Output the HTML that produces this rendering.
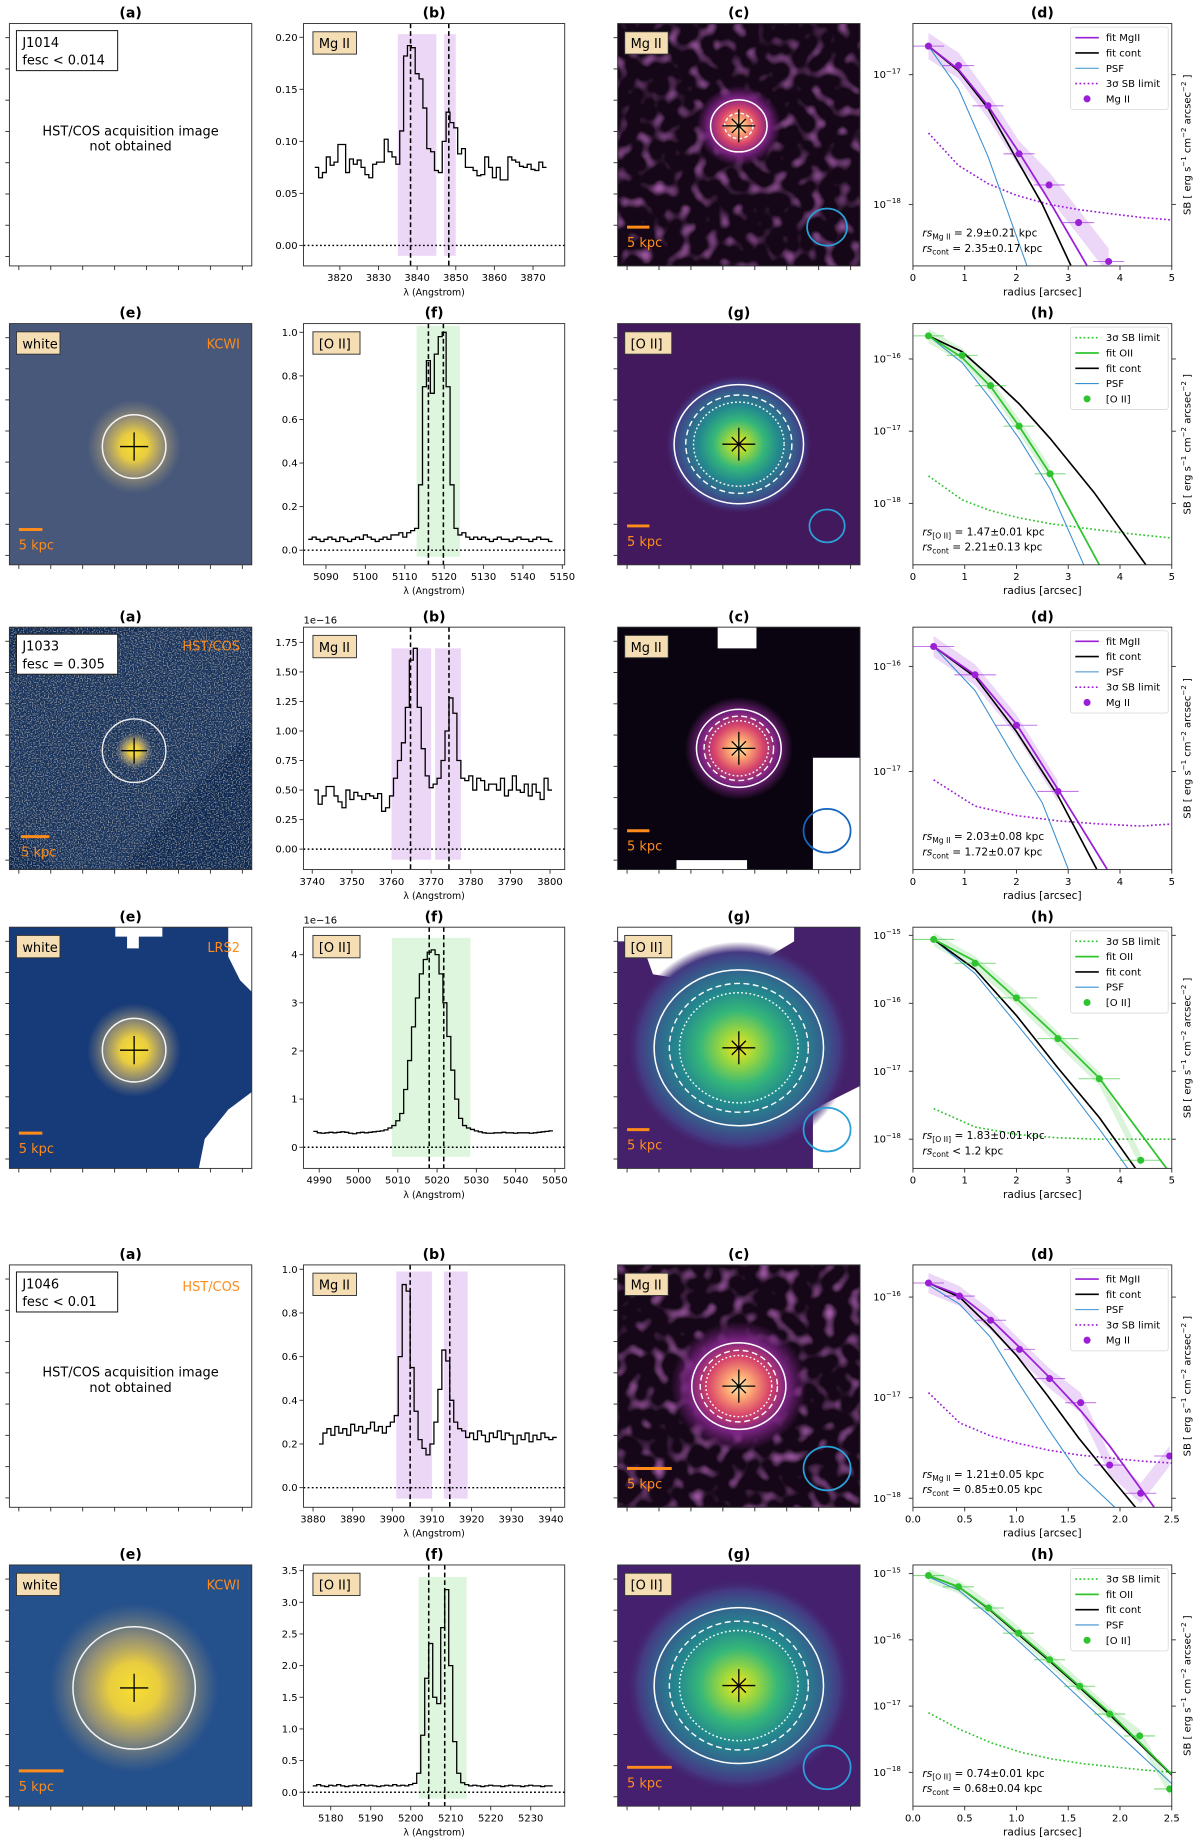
<!DOCTYPE html>
<html><head><meta charset="utf-8">
<style>
html,body{margin:0;padding:0;background:#fff;}
svg{display:block;font-family:"DejaVu Sans","Liberation Sans",sans-serif;}
</style></head>
<body>
<svg id="fig" xmlns="http://www.w3.org/2000/svg" width="1200" height="1845" viewBox="0 0 1020 1568" preserveAspectRatio="none">
<defs>
<radialGradient id="gMagma" cx="50%" cy="50%" r="50%">
<stop offset="0" stop-color="#fcf0b0"/><stop offset="0.2" stop-color="#fca372"/><stop offset="0.45" stop-color="#d8456a"/><stop offset="0.7" stop-color="#7a2382"/><stop offset="1" stop-color="#7a2382" stop-opacity="0"/>
</radialGradient>
<radialGradient id="gViridis" cx="50%" cy="50%" r="50%">
<stop offset="0" stop-color="#f4e323"/><stop offset="0.15" stop-color="#9fd83c"/><stop offset="0.35" stop-color="#35b779"/><stop offset="0.55" stop-color="#23898e"/><stop offset="0.75" stop-color="#35608d"/><stop offset="0.9" stop-color="#443a83"/><stop offset="1" stop-color="#46256e" stop-opacity="0"/>
</radialGradient>
<radialGradient id="gWhite" cx="50%" cy="50%" r="50%">
<stop offset="0" stop-color="#f7e030"/><stop offset="0.3" stop-color="#e8cc40"/><stop offset="0.6" stop-color="#b0a070" stop-opacity="0.8"/><stop offset="1" stop-color="#8a8a80" stop-opacity="0"/>
</radialGradient>
<filter id="noisePurple" x="0" y="0" width="100%" height="100%">
<feTurbulence type="fractalNoise" baseFrequency="0.09" numOctaves="1" seed="3"/>
<feColorMatrix type="matrix" values="0 0 0 0 0.45  0 0 0 0 0.13  0 0 0 0 0.48  0 0 0 3 -1.55"/>
</filter>
<filter id="noiseSpeck" x="0" y="0" width="100%" height="100%">
<feTurbulence type="fractalNoise" baseFrequency="0.9" numOctaves="1" seed="7"/>
<feColorMatrix type="matrix" values="0 0 0 0 0.75  0 0 0 0 0.68  0 0 0 0 0.55  0 0 0 5 -2.4"/>
</filter>
</defs>
</svg>
<script>
// ===================== DATA =====================
const s1_start = 3814;
const s1_vals = [0.075,0.065,0.07,0.085,0.077,0.08,0.097,0.097,0.07,0.083,0.078,0.082,0.075,0.068,0.065,0.078,0.08,0.08,0.102,0.09,0.085,0.078,0.11,0.182,0.192,0.19,0.165,0.16,0.132,0.093,0.09,0.072,0.07,0.1,0.128,0.118,0.113,0.088,0.093,0.075,0.075,0.072,0.067,0.068,0.085,0.075,0.065,0.075,0.063,0.063,0.085,0.082,0.08,0.076,0.075,0.078,0.073,0.072,0.08,0.075];
const s2_start = 5086;
const s2_vals = [0.05,0.06,0.05,0.04,0.05,0.06,0.05,0.04,0.06,0.05,0.04,0.05,0.06,0.05,0.07,0.06,0.05,0.04,0.05,0.06,0.05,0.07,0.07,0.08,0.06,0.08,0.09,0.1,0.3,0.75,0.87,0.72,0.9,0.98,1.0,0.75,0.3,0.1,0.07,0.08,0.06,0.05,0.06,0.05,0.06,0.05,0.04,0.05,0.06,0.05,0.05,0.04,0.05,0.06,0.05,0.05,0.04,0.05,0.06,0.05,0.05,0.04];
const s3_start = 3741;
const s3_vals = [0.5,0.38,0.45,0.53,0.53,0.45,0.4,0.35,0.5,0.42,0.48,0.45,0.42,0.47,0.45,0.43,0.47,0.32,0.35,0.45,0.6,0.75,0.9,1.2,1.6,1.7,1.2,0.85,0.62,0.52,0.55,0.6,0.75,1.0,1.28,1.15,0.75,0.6,0.58,0.62,0.5,0.6,0.58,0.5,0.55,0.55,0.5,0.6,0.45,0.5,0.62,0.5,0.48,0.55,0.45,0.55,0.48,0.42,0.6,0.5];
const s4_start = 4989;
const s4_vals = [0.33,0.3,0.29,0.3,0.31,0.3,0.31,0.32,0.31,0.29,0.28,0.3,0.31,0.3,0.31,0.32,0.33,0.34,0.36,0.4,0.45,0.55,0.7,1.2,1.8,2.5,3.1,3.6,3.9,4.05,4.1,4.0,3.6,3.0,2.3,1.6,1.0,0.6,0.45,0.4,0.37,0.34,0.32,0.3,0.29,0.29,0.3,0.3,0.31,0.3,0.3,0.29,0.3,0.3,0.3,0.29,0.3,0.31,0.32,0.33,0.34];
const s5_start = 3882;
const s5_vals = [0.2,0.25,0.27,0.24,0.28,0.25,0.27,0.24,0.29,0.26,0.28,0.25,0.27,0.3,0.26,0.28,0.25,0.28,0.3,0.33,0.6,0.93,0.9,0.55,0.35,0.22,0.18,0.15,0.2,0.3,0.45,0.63,0.58,0.4,0.3,0.27,0.26,0.23,0.25,0.22,0.26,0.24,0.21,0.25,0.23,0.26,0.22,0.25,0.24,0.2,0.24,0.22,0.25,0.21,0.24,0.22,0.25,0.23,0.22,0.23];
const s6_start = 5176;
const s6_vals = [0.1,0.12,0.1,0.09,0.11,0.1,0.12,0.1,0.09,0.1,0.11,0.1,0.12,0.1,0.11,0.1,0.09,0.1,0.11,0.1,0.12,0.1,0.11,0.1,0.12,0.14,0.3,0.9,1.8,2.35,1.5,1.4,2.6,3.2,2.0,0.8,0.3,0.15,0.12,0.1,0.11,0.1,0.09,0.1,0.11,0.1,0.1,0.09,0.1,0.11,0.1,0.1,0.09,0.1,0.11,0.1,0.1,0.09,0.1,0.1];

const p1_r = [0.3,0.88,1.45,2.05,2.63,3.2,3.78];
const p1_logSB = [-16.78,-16.93,-17.24,-17.61,-17.85,-18.14,-18.44];
const p1_fit_r = [0.3,0.88,1.45,2.05,2.63,3.36];
const p1_fit_log = [-16.78,-16.96,-17.24,-17.6,-17.97,-18.47];
const p1_cont_r = [0.3,0.88,1.45,2.0,2.5,3.05];
const p1_cont_log = [-16.78,-16.97,-17.26,-17.65,-18.0,-18.47];
const p1_psf_r = [0.3,0.88,1.45,2.2];
const p1_psf_log = [-16.78,-17.11,-17.63,-18.47];
const p1_sb_r = [0.3,0.88,1.45,2.0,2.63,3.2,3.78,4.4,5.0];
const p1_sb_log = [-17.45,-17.7,-17.84,-17.93,-18.0,-18.04,-18.07,-18.1,-18.12];

const p2_r = [0.3,0.95,1.5,2.05,2.65];
const p2_logSB = [-15.68,-15.95,-16.37,-16.93,-17.59];
const p2_fit_r = [0.3,0.95,1.5,2.05,2.65,3.6];
const p2_fit_log = [-15.68,-15.98,-16.38,-16.93,-17.59,-18.85];
const p2_cont_r = [0.3,0.95,1.5,2.05,2.65,3.5,4.5];
const p2_cont_log = [-15.68,-15.9,-16.25,-16.62,-17.1,-17.85,-18.85];
const p2_psf_r = [0.3,0.95,1.5,2.05,2.65,3.3];
const p2_psf_log = [-15.68,-16.05,-16.55,-17.1,-17.8,-18.85];
const p2_sb_r = [0.3,0.95,1.5,2.05,2.65,3.5,4.2,5.0];
const p2_sb_log = [-17.62,-17.95,-18.1,-18.2,-18.28,-18.36,-18.42,-18.48];

const p3_r = [0.4,1.2,2.0,2.8];
const p3_logSB = [-15.81,-16.08,-16.56,-17.19];
const p3_fit_r = [0.4,1.2,2.0,2.8,3.75];
const p3_fit_log = [-15.81,-16.08,-16.55,-17.17,-17.93];
const p3_cont_r = [0.4,1.2,2.0,2.8,3.55];
const p3_cont_log = [-15.81,-16.1,-16.62,-17.23,-17.93];
const p3_psf_r = [0.4,1.2,2.0,2.5,3.0];
const p3_psf_log = [-15.81,-16.23,-16.9,-17.3,-17.93];
const p3_sb_r = [0.4,1.2,2.0,2.8,3.6,4.4,5.0];
const p3_sb_log = [-17.08,-17.33,-17.42,-17.47,-17.5,-17.52,-17.5];

const p4_r = [0.4,1.2,2.0,2.8,3.6,4.4];
const p4_logSB = [-15.06,-15.41,-15.92,-16.52,-17.11,-18.31];
const p4_fit_r = [0.4,1.2,2.0,2.8,3.6,4.9];
const p4_fit_log = [-15.06,-15.38,-15.93,-16.5,-17.1,-18.43];
const p4_cont_r = [0.4,1.2,2.0,2.8,3.6,4.3];
const p4_cont_log = [-15.06,-15.5,-16.18,-16.95,-17.68,-18.43];
const p4_psf_r = [0.4,1.2,2.0,2.8,3.6,4.15];
const p4_psf_log = [-15.06,-15.56,-16.3,-17.05,-17.85,-18.43];
const p4_sb_r = [0.4,1.2,2.0,2.8,3.6,4.4,5.0];
const p4_sb_log = [-17.55,-17.82,-17.93,-17.98,-18.0,-18.0,-18.0];

const p5_r = [0.15,0.45,0.75,1.03,1.32,1.62,1.9,2.2,2.48];
const p5_logSB = [-15.86,-15.99,-16.23,-16.52,-16.81,-17.05,-17.67,-17.95,-17.58];
const p5_fit_r = [0.15,0.45,0.75,1.03,1.32,1.62,1.9,2.33];
const p5_fit_log = [-15.86,-15.98,-16.22,-16.5,-16.8,-17.13,-17.48,-18.09];
const p5_cont_r = [0.15,0.45,0.75,1.0,1.3,1.6,1.9,2.15];
const p5_cont_log = [-15.86,-16.0,-16.3,-16.58,-16.98,-17.4,-17.78,-18.09];
const p5_psf_r = [0.15,0.45,0.75,1.0,1.3,1.6,1.95];
const p5_psf_log = [-15.88,-16.07,-16.4,-16.82,-17.3,-17.75,-18.09];
const p5_sb_r = [0.15,0.45,0.75,1.0,1.3,1.6,1.9,2.2,2.5];
const p5_sb_log = [-16.95,-17.25,-17.38,-17.45,-17.52,-17.57,-17.6,-17.63,-17.65];

const p6_r = [0.15,0.44,0.73,1.02,1.32,1.61,1.9,2.19,2.48];
const p6_logSB = [-15.03,-15.2,-15.52,-15.9,-16.3,-16.7,-17.12,-17.45,-18.25];
const p6_fit_r = [0.15,0.44,0.73,1.02,1.32,1.61,1.9,2.19,2.5];
const p6_fit_log = [-15.03,-15.2,-15.52,-15.9,-16.3,-16.7,-17.1,-17.55,-18.03];
const p6_cont_r = [0.15,0.44,0.73,1.02,1.32,1.61,1.9,2.19,2.5];
const p6_cont_log = [-15.03,-15.2,-15.53,-15.92,-16.32,-16.72,-17.13,-17.57,-18.04];
const p6_psf_r = [0.15,0.44,0.73,1.02,1.32,1.61,1.9,2.19,2.5];
const p6_psf_log = [-15.05,-15.25,-15.62,-16.02,-16.45,-16.88,-17.3,-17.72,-18.17];
const p6_sb_r = [0.15,0.45,0.75,1.05,1.35,1.65,1.95,2.2,2.5];
const p6_sb_log = [-17.1,-17.35,-17.55,-17.7,-17.8,-17.87,-17.92,-17.96,-18.0];

// ===================== LAYOUT =====================
const COLX = {a:[8,214], b:[258,480], c:[525,731], d:[776,996]};
const ROWY = [[20,226],[275,480],[533,739],[788,993],[1075,1281],[1330,1535]];
const NS = 'http://www.w3.org/2000/svg';
const svg = document.getElementById('fig');
const MG = '#9b1fd6', OII = '#2fc42f', PSFC = '#3a8fd0';

function mk(tag, parent, attrs){
  const e = document.createElementNS(NS, tag);
  for (const k in attrs) e.setAttribute(k, attrs[k]);
  parent.appendChild(e);
  return e;
}
function txt(parent, x, y, s, attrs){
  const t = mk('text', parent, Object.assign({x:x, y:y, 'font-size':9, fill:'#000'}, attrs||{}));
  t.textContent = s;
  return t;
}
function lin(d0,d1,p0,p1){ return v => p0 + (v-d0)/(d1-d0)*(p1-p0); }
function fmt(v,d){ return v.toFixed(d); }

function title(g, x0, x1, y0, s){
  const t = txt(g, (x0+x1)/2, y0-5, s, {'font-size':12, 'font-weight':'bold', 'text-anchor':'middle'});
  
  
}
function labelBox(g, x, y, s, w){
  const r = mk('rect', g, {x:x, y:y, width:w, height:19, fill:'#f6deb4', stroke:'#333', 'stroke-width':0.8});
  
  
  const t = txt(g, x+5, y+14, s, {'font-size':11});
  
  
}

function drawSpec(c){
  const [x0,x1] = COLX.b, [y0,y1] = c.row;
  const g = mk('g', svg, {});
  
  
  const xs = lin(c.xdom[0], c.xdom[1], x0, x1), ys = lin(c.ydom[0], c.ydom[1], y1, y0);
  title(g, x0, x1, y0, c.title);
  c.bands.forEach(b => {
    const r = mk('rect', g, {x:xs(b[0]), y:ys(c.bandY[1]), width:xs(b[1])-xs(b[0]), height:ys(c.bandY[0])-ys(c.bandY[1]), fill:c.bandColor, opacity:0.45});
    
    
  });
  const z = mk('line', g, {x1:x0, x2:x1, y1:ys(0), y2:ys(0), stroke:'#000', 'stroke-width':1.2, 'stroke-dasharray':'1.5,2'});
  
  
  const w = c.vals.map((v,i)=>c.start+i);
  let d = 'M'+xs(w[0]-0.5)+' '+ys(c.vals[0]);
  for (let i=0;i<c.vals.length;i++){
    if (i>0) d += ' V'+ys(c.vals[i]);
    d += ' H'+xs(w[i]+0.5);
  }
  const p = mk('path', g, {d:d, fill:'none', stroke:'#000', 'stroke-width':1.1});
  
  
  c.dashes.forEach(v => {
    const l = mk('line', g, {x1:xs(v), x2:xs(v), y1:y0, y2:y1, stroke:'#000', 'stroke-width':1.3, 'stroke-dasharray':'4,2.5'});
    
    
  });
  const fr = mk('rect', g, {x:x0, y:y0, width:x1-x0, height:y1-y0, fill:'none', stroke:'#333', 'stroke-width':0.8});
  
  
  c.xticks.forEach(v => {
    mk('line', g, {x1:xs(v), x2:xs(v), y1:y1, y2:y1+3.5, stroke:'#333', 'stroke-width':0.8});
    const t = txt(g, xs(v), y1+13, String(v), {'font-size':8.5, 'text-anchor':'middle'});
    
    
  });
  c.yticks.forEach(v => {
    mk('line', g, {x1:x0-3.5, x2:x0, y1:ys(v), y2:ys(v), stroke:'#333', 'stroke-width':0.8});
    const t = txt(g, x0-5, ys(v)+3, fmt(v,c.ydec), {'font-size':8.5, 'text-anchor':'end'});
    
    
  });
  const xl = txt(g, (x0+x1)/2, y1+25, 'λ (Angstrom)', {'font-size':8, 'text-anchor':'middle'});
  
  
  if (c.sci){
    const s = txt(g, x0, y0-3, c.sci, {'font-size':8.5});
    
    
  }
  labelBox(g, x0+8, y0+7, c.label, c.label==='Mg II'?37:40);
}

function drawProf(c){
  const [x0,x1] = COLX.d, [y0,y1] = c.row;
  const g = mk('g', svg, {});
  
  
  const xs = lin(c.xdom[0], c.xdom[1], x0, x1), ys = lin(c.ydom[0], c.ydom[1], y1, y0);
  title(g, x0, x1, y0, c.title);
  const cid = 'clip'+c.id;
  const cp = mk('clipPath', svg, {id:cid});
  mk('rect', cp, {x:x0, y:y0, width:x1-x0, height:y1-y0});
  const pg = mk('g', g, {'clip-path':'url(#'+cid+')'});
  let up = c.r.map((r,i)=>xs(r)+','+ys(c.v[i]+0.1)).join(' ');
  let dn = c.r.slice().reverse().map((r,i)=>xs(r)+','+ys(c.v[c.v.length-1-i]-0.1)).join(' ');
  const band = mk('polygon', pg, {points:up+' '+dn, fill:c.color, opacity:0.18});
  
  
  const line = (rs, vs, stroke, sw, dash, name) => {
    const l = mk('polyline', pg, {points:rs.map((r,i)=>xs(r)+','+ys(vs[i])).join(' '), fill:'none', stroke:stroke, 'stroke-width':sw});
    if (dash) l.setAttribute('stroke-dasharray', dash);
    
    
  };
  line(c.sbR, c.sbV, c.color, 1.4, '1.5,2', 'sb-limit-line');
  line(c.psfR, c.psfV, PSFC, 0.9, null, 'psf-line');
  line(c.contR, c.contV, '#000', 1.4, null, 'fit-cont-line');
  line(c.fitR, c.fitV, c.color, 1.5, null, 'fit-line-line');
  c.r.forEach((r,i) => {
    const e = mk('line', pg, {x1:xs(r-c.xerr), x2:xs(r+c.xerr), y1:ys(c.v[i]), y2:ys(c.v[i]), stroke:c.color, 'stroke-width':0.9, opacity:0.6});
    
    
    const pt = mk('circle', pg, {cx:xs(r), cy:ys(c.v[i]), r:3, fill:c.color});
    
    
  });
  const fr = mk('rect', g, {x:x0, y:y0, width:x1-x0, height:y1-y0, fill:'none', stroke:'#333', 'stroke-width':0.8});
  
  
  c.xticks.forEach(v => {
    mk('line', g, {x1:xs(v), x2:xs(v), y1:y1, y2:y1+3.5, stroke:'#333', 'stroke-width':0.8});
    const t = txt(g, xs(v), y1+13, fmt(v,c.xdec), {'font-size':8.5, 'text-anchor':'middle'});
    
    
  });
  for (let e = Math.ceil(c.ydom[0]); e <= Math.floor(c.ydom[1]); e++){
    mk('line', g, {x1:x0-3.5, x2:x0, y1:ys(e), y2:ys(e), stroke:'#333', 'stroke-width':0.8});
    mk('line', g, {x1:x1, x2:x1+3.5, y1:ys(e), y2:ys(e), stroke:'#333', 'stroke-width':0.8});
    const t = txt(g, x0-22, ys(e)+3, '10', {'font-size':8.5, 'text-anchor':'middle'});
    const sp = mk('tspan', t, {'font-size':6, dy:-4});
    sp.textContent = '−'+Math.abs(e);
    
    
  }
  const xl = txt(g, (x0+x1)/2, y1+25, 'radius [arcsec]', {'font-size':9, 'text-anchor':'middle'});
  
  
  const cy = (y0+y1)/2;
  const yl = txt(g, 0, 0, 'SB [ erg s', {'font-size':8.5, 'text-anchor':'middle', transform:'translate(1012,'+cy+') rotate(-90)'});
  let s1 = mk('tspan', yl, {'font-size':6, dy:-4}); s1.textContent='−1';
  let s2 = mk('tspan', yl, {dy:4}); s2.textContent=' cm';
  let s3 = mk('tspan', yl, {'font-size':6, dy:-4}); s3.textContent='−2';
  let s4 = mk('tspan', yl, {dy:4}); s4.textContent=' arcsec';
  let s5 = mk('tspan', yl, {'font-size':6, dy:-4}); s5.textContent='−2';
  let s6 = mk('tspan', yl, {dy:4}); s6.textContent=' ]';
  
  
  const rsText = (y, sub, rest) => {
    const t = txt(g, x0+8, y, 'rs', {'font-size':9, 'font-style':'italic'});
    const sb = mk('tspan', t, {'font-size':6.5, dy:2.5, 'font-style':'normal'}); sb.textContent = sub;
    const rr = mk('tspan', t, {dy:-2.5, 'font-style':'normal'}); rr.textContent = rest;
    
    
  };
  rsText(y1-25, c.lineSub, c.rsLine);
  rsText(y1-12, 'cont', c.rsCont);
  const lx = x1-86, ly = y0+3, n = c.legend.length;
  const lb = mk('rect', g, {x:lx, y:ly, width:83, height:n*13+5, fill:'#fff', 'fill-opacity':0.85, stroke:'#ddd', 'stroke-width':0.8, rx:2});
  
  
  c.legend.forEach((it,i) => {
    const yy = ly + 9 + i*13;
    if (it.type==='pt'){
      mk('circle', g, {cx:lx+14, cy:yy, r:3, fill:it.color});
    } else {
      const l = mk('line', g, {x1:lx+4, x2:lx+24, y1:yy, y2:yy, stroke:it.color, 'stroke-width':it.sw||1.4});
      if (it.dash) l.setAttribute('stroke-dasharray', it.dash);
    }
    const t = txt(g, lx+30, yy+3, it.label, {'font-size':8.5});
    
    
  });
}

function imgFrame(g, x0, x1, y0, y1, nt){
  const fr = mk('rect', g, {x:x0, y:y0, width:x1-x0, height:y1-y0, fill:'none', stroke:'#333', 'stroke-width':0.8});
  
  
  for (let i=0;i<nt;i++){
    const fx = x0 + 8 + i*(x1-x0-16)/(nt-1);
    mk('line', g, {x1:fx, x2:fx, y1:y1, y2:y1+3.5, stroke:'#333', 'stroke-width':0.8});
    const fy = y0 + 12 + i*(y1-y0-20)/(nt-1);
    mk('line', g, {x1:x0-3.5, x2:x0, y1:fy, y2:fy, stroke:'#333', 'stroke-width':0.8});
  }
}
function scaleBar(g, x, y, len){
  const b = mk('line', g, {x1:x, x2:x+len, y1:y, y2:y, stroke:'#ff8c1a', 'stroke-width':2.5});
  
  
  const t = txt(g, x, y+17, '5 kpc', {'font-size':11, fill:'#ff8c1a'});
  
  
}
function cross(g, cx, cy, s, x){
  mk('line', g, {x1:cx-s, x2:cx+s, y1:cy, y2:cy, stroke:'#000', 'stroke-width':1.1});
  mk('line', g, {x1:cx, x2:cx, y1:cy-s, y2:cy+s, stroke:'#000', 'stroke-width':1.1});
  if (x){
    mk('line', g, {x1:cx-6, x2:cx+6, y1:cy-6, y2:cy+6, stroke:'#000', 'stroke-width':1.1});
    mk('line', g, {x1:cx-6, x2:cx+6, y1:cy+6, y2:cy-6, stroke:'#000', 'stroke-width':1.1});
  }
}
function infoBox(g, x, y, l1, l2){
  const r = mk('rect', g, {x:x, y:y, width:86, height:34, fill:'#fff', stroke:'#222', 'stroke-width':0.9});
  
  
  const t1 = txt(g, x+5, y+14, l1, {'font-size':11});
  
  
  const t2 = txt(g, x+5, y+29, l2, {'font-size':11});
  
  
}
function instrument(g, x, y, s){
  const t = txt(g, x, y, s, {'font-size':11, fill:'#ff8c1a', 'text-anchor':'end'});
  
  
}
function clipG(g, id, x0, y0, x1, y1){
  const cp = mk('clipPath', svg, {id:id});
  mk('rect', cp, {x:x0, y:y0, width:x1-x0, height:y1-y0});
  return mk('g', g, {'clip-path':'url(#'+id+')'});
}

function drawA(ri, kind, opts){
  const [x0,x1] = COLX.a, [y0,y1] = ROWY[ri];
  const g = mk('g', svg, {});
  
  
  title(g, x0, x1, y0, opts.title);
  const cx = (x0+x1)/2+3, cy = (y0+y1)/2+2;
  const ig = clipG(g, 'ca'+ri, x0, y0, x1, y1);
  if (kind==='empty'){
    const t1 = txt(g, (x0+x1)/2, cy-10, 'HST/COS acquisition image', {'font-size':11, 'text-anchor':'middle'});
    
    
    const t2 = txt(g, (x0+x1)/2, cy+3, 'not obtained', {'font-size':11, 'text-anchor':'middle'});
    
    
  } else if (kind==='hst'){
    mk('rect', ig, {x:x0, y:y0, width:x1-x0, height:y1-y0, fill:'#0c2751'});
    const pts = [x0,y0+25, x0+125,y0, x1,y0, x1,y0+85, x0+95,y1, x0+40,y1, x0,y0+170].join(' ');
    mk('polygon', ig, {points:pts, fill:'#17325c'});
    mk('polygon', ig, {points:pts, fill:'#fff', filter:'url(#noiseSpeck)', opacity:0.55});
    mk('circle', ig, {cx:cx, cy:cy, r:16, fill:'url(#gWhite)'});
    mk('circle', ig, {cx:cx, cy:cy, r:27, fill:'none', stroke:'#eee', 'stroke-width':1.2});
    cross(ig, cx, cy, 11, false);
    infoBox(g, x0+6, y0+6, 'J1033', 'fesc = 0.305');
    instrument(g, x1-10, y0+20, 'HST/COS');
    scaleBar(g, x0+10, y1-28, 24);
  } else {
    mk('rect', ig, {x:x0, y:y0, width:x1-x0, height:y1-y0, fill:opts.bg});
    if (opts.cut) opts.cut.forEach(p => mk('polygon', ig, {points:p.join(' '), fill:'#fff'}));
    mk('circle', ig, {cx:cx, cy:cy, r:opts.glow, fill:'url(#gWhite)'});
    const c = mk('circle', ig, {cx:cx, cy:cy, r:opts.circ, fill:'none', stroke:'#f4f4f4', 'stroke-width':1.3});
    
    
    cross(ig, cx, cy, 12, false);
    labelBox(g, x0+6, y0+7, 'white', 37);
    instrument(g, x1-10, y0+21, opts.inst);
    scaleBar(g, x0+8, y1-30, opts.bar);
  }
  if (opts.info) infoBox(g, x0+6, y0+6, opts.info[0], opts.info[1]);
  if (opts.inst2) instrument(g, x1-10, y0+22, opts.inst2);
  imgFrame(g, x0, x1, y0, y1, 8);
}

function drawC(ri, kind, opts){
  const [x0,x1] = COLX.c, [y0,y1] = ROWY[ri];
  const g = mk('g', svg, {});
  
  
  title(g, x0, x1, y0, opts.title);
  const cx = (x0+x1)/2, cy = (y0+y1)/2+ (opts.dy||0);
  const ig = clipG(g, 'cc'+ri, x0, y0, x1, y1);
  mk('rect', ig, {x:x0, y:y0, width:x1-x0, height:y1-y0, fill:opts.bg});
  if (opts.noise) mk('rect', ig, {x:x0, y:y0, width:x1-x0, height:y1-y0, fill:'#fff', filter:'url(#noisePurple)'});
  if (opts.cut) opts.cut.forEach(p => mk('polygon', ig, {points:p.join(' '), fill:'#fff'}));
  const blob = mk('ellipse', ig, {cx:cx, cy:cy, rx:opts.glow, ry:opts.glow*0.95, fill: kind==='mg'?'url(#gMagma)':'url(#gViridis)'});
  
  
  const r = opts.cont;
  const c1 = mk('ellipse', ig, {cx:cx, cy:cy, rx:r, ry:r*0.92, fill:'none', stroke:'#fff', 'stroke-width':1.3});
  
  
  if (r>25){
    mk('ellipse', ig, {cx:cx, cy:cy, rx:r*0.82, ry:r*0.76, fill:'none', stroke:'#fff', 'stroke-width':1.2, 'stroke-dasharray':'5,3'});
    mk('ellipse', ig, {cx:cx, cy:cy, rx:r*0.7, ry:r*0.65, fill:'none', stroke:'#fff', 'stroke-width':1.2, 'stroke-dasharray':'1.5,2'});
  } else {
    mk('ellipse', ig, {cx:cx, cy:cy, rx:r*0.5, ry:r*0.45, fill:'none', stroke:'#fff', 'stroke-width':1.2, 'stroke-dasharray':'3,2'});
  }
  cross(ig, cx, cy, 14, true);
  const psf = mk('ellipse', ig, {cx:x1-28, cy:y1-33, rx:opts.psf, ry:opts.psf*0.93, fill:'none', stroke:kind==='mg'&&ri!==0&&ri!==4?'#1565c0':'#2aa0d8', 'stroke-width':1.5});
  
  
  labelBox(g, x0+6, y0+7, kind==='mg'?'Mg II':'[O II]', kind==='mg'?37:40);
  scaleBar(g, x0+8, y1-33+(opts.barDy||0), opts.bar);
  imgFrame(g, x0, x1, y0, y1, 8);
}

// ===================== BUILD =====================
drawA(0, 'empty', {title:'(a)', info:['J1014','fesc < 0.014']});
drawSpec({row:ROWY[0], title:'(b)', xdom:[3810.6,3878.2], ydom:[-0.0197,0.2132], start:s1_start, vals:s1_vals,
  bands:[[3835,3845],[3847,3850]], bandY:[-0.01,0.203], bandColor:'#d6a6ee', dashes:[3838.3,3848.2],
  xticks:[3820,3830,3840,3850,3860,3870], yticks:[0,0.05,0.1,0.15,0.2], ydec:2, label:'Mg II'});
drawC(0, 'mg', {title:'(c)', bg:'#150717', noise:true, glow:36, cont:24, psf:17, bar:19, dy:-16});
drawProf({id:1, row:ROWY[0], title:'(d)', xdom:[0,5], ydom:[-18.474,-16.606], xticks:[0,1,2,3,4,5], xdec:0, xerr:0.3,
  r:p1_r, v:p1_logSB, fitR:p1_fit_r, fitV:p1_fit_log, contR:p1_cont_r, contV:p1_cont_log, psfR:p1_psf_r, psfV:p1_psf_log, sbR:p1_sb_r, sbV:p1_sb_log,
  color:MG, lineSub:'Mg II', rsLine:' = 2.9±0.21 kpc', rsCont:' = 2.35±0.17 kpc',
  legend:[{label:'fit MgII',color:MG},{label:'fit cont',color:'#000'},{label:'PSF',color:PSFC,sw:0.9},{label:'3σ SB limit',color:MG,dash:'1.5,2'},{label:'Mg II',color:MG,type:'pt'}]});

drawA(1, 'img', {title:'(e)', bg:'#48587a', glow:40, circ:27, inst:'KCWI', bar:20});
drawSpec({row:ROWY[1], title:'(f)', xdom:[5084.3,5150.6], ydom:[-0.067,1.04], start:s2_start, vals:s2_vals,
  bands:[[5113,5124]], bandY:[-0.03,1.03], bandColor:'#b4ecb4', dashes:[5116,5119.8],
  xticks:[5090,5100,5110,5120,5130,5140,5150], yticks:[0,0.2,0.4,0.6,0.8,1.0], ydec:1, label:'[O II]'});
drawC(1, 'oii', {title:'(g)', bg:'#42195c', glow:62, cont:55, psf:15, bar:19});
drawProf({id:2, row:ROWY[1], title:'(h)', xdom:[0,5], ydom:[-18.85,-15.51], xticks:[0,1,2,3,4,5], xdec:0, xerr:0.3,
  r:p2_r, v:p2_logSB, fitR:p2_fit_r, fitV:p2_fit_log, contR:p2_cont_r, contV:p2_cont_log, psfR:p2_psf_r, psfV:p2_psf_log, sbR:p2_sb_r, sbV:p2_sb_log,
  color:OII, lineSub:'[O II]', rsLine:' = 1.47±0.01 kpc', rsCont:' = 2.21±0.13 kpc',
  legend:[{label:'3σ SB limit',color:OII,dash:'1.5,2'},{label:'fit OII',color:OII},{label:'fit cont',color:'#000'},{label:'PSF',color:PSFC,sw:0.9},{label:'[O II]',color:OII,type:'pt'}]});

drawA(2, 'hst', {title:'(a)'});
drawSpec({row:ROWY[2], title:'(b)', xdom:[3737.8,3803.7], ydom:[-0.173,1.879], start:s3_start, vals:s3_vals,
  bands:[[3760,3770],[3771,3777.5]], bandY:[-0.09,1.7], bandColor:'#d6a6ee', dashes:[3764.8,3774.5],
  xticks:[3740,3750,3760,3770,3780,3790,3800], yticks:[0,0.25,0.5,0.75,1.0,1.25,1.5,1.75], ydec:2, label:'Mg II', sci:'1e−16'});
drawC(2, 'mg', {title:'(c)', bg:'#0a0410', glow:46, cont:36, psf:20, bar:19,
  cut:[[[COLX.c[0]+85,ROWY[2][0]],[COLX.c[0]+118,ROWY[2][0]],[COLX.c[0]+118,ROWY[2][0]+18],[COLX.c[0]+85,ROWY[2][0]+18]],[[COLX.c[1]-40,ROWY[2][1]-95],[COLX.c[1],ROWY[2][1]-95],[COLX.c[1],ROWY[2][1]],[COLX.c[1]-40,ROWY[2][1]]],[[COLX.c[0]+50,ROWY[2][1]-8],[COLX.c[0]+110,ROWY[2][1]-8],[COLX.c[0]+110,ROWY[2][1]],[COLX.c[0]+50,ROWY[2][1]]]]});
drawProf({id:3, row:ROWY[2], title:'(d)', xdom:[0,5], ydom:[-17.934,-15.626], xticks:[0,1,2,3,4,5], xdec:0, xerr:0.4,
  r:p3_r, v:p3_logSB, fitR:p3_fit_r, fitV:p3_fit_log, contR:p3_cont_r, contV:p3_cont_log, psfR:p3_psf_r, psfV:p3_psf_log, sbR:p3_sb_r, sbV:p3_sb_log,
  color:MG, lineSub:'Mg II', rsLine:' = 2.03±0.08 kpc', rsCont:' = 1.72±0.07 kpc',
  legend:[{label:'fit MgII',color:MG},{label:'fit cont',color:'#000'},{label:'PSF',color:PSFC,sw:0.9},{label:'3σ SB limit',color:MG,dash:'1.5,2'},{label:'Mg II',color:MG,type:'pt'}]});

drawA(3, 'img', {title:'(e)', bg:'#173a78', glow:40, circ:27, inst:'LRS2', bar:20,
  cut:[[[COLX.a[0]+90,ROWY[3][0]],[COLX.a[0]+130,ROWY[3][0]],[COLX.a[0]+130,ROWY[3][0]+8],[COLX.a[0]+110,ROWY[3][0]+8],[COLX.a[0]+110,ROWY[3][0]+18],[COLX.a[0]+100,ROWY[3][0]+18],[COLX.a[0]+100,ROWY[3][0]+8],[COLX.a[0]+90,ROWY[3][0]+8]],
       [[COLX.a[1]-20,ROWY[3][0]],[COLX.a[1],ROWY[3][0]],[COLX.a[1],ROWY[3][0]+55],[COLX.a[1]-10,ROWY[3][0]+45],[COLX.a[1]-20,ROWY[3][0]+25]],
       [[COLX.a[1],ROWY[3][1]-65],[COLX.a[1],ROWY[3][1]],[COLX.a[1]-45,ROWY[3][1]],[COLX.a[1]-40,ROWY[3][1]-25],[COLX.a[1]-20,ROWY[3][1]-50]]]});
drawSpec({row:ROWY[3], title:'(f)', xdom:[4986,5052.5], ydom:[-0.44,4.57], start:s4_start, vals:s4_vals,
  bands:[[5008.5,5028.5]], bandY:[-0.2,4.35], bandColor:'#b4ecb4', dashes:[5018,5021.7],
  xticks:[4990,5000,5010,5020,5030,5040,5050], yticks:[0,1,2,3,4], ydec:0, label:'[O II]', sci:'1e−16'});
drawC(3, 'oii', {title:'(g)', bg:'#44216a', glow:95, cont:72, psf:20, bar:19,
  cut:[[[COLX.c[0],ROWY[3][0]],[COLX.c[0]+150,ROWY[3][0]],[COLX.c[0]+150,ROWY[3][0]+12],[COLX.c[0]+120,ROWY[3][0]+30],[COLX.c[0]+60,ROWY[3][0]+45],[COLX.c[0]+30,ROWY[3][0]+40],[COLX.c[0]+20,ROWY[3][0]+12],[COLX.c[0],ROWY[3][0]+12]],
       [[COLX.c[1],ROWY[3][1]-70],[COLX.c[1],ROWY[3][1]],[COLX.c[1]-40,ROWY[3][1]],[COLX.c[1]-40,ROWY[3][1]-50]]]});
drawProf({id:4, row:ROWY[3], title:'(h)', xdom:[0,5], ydom:[-18.43,-14.88], xticks:[0,1,2,3,4,5], xdec:0, xerr:0.4,
  r:p4_r, v:p4_logSB, fitR:p4_fit_r, fitV:p4_fit_log, contR:p4_cont_r, contV:p4_cont_log, psfR:p4_psf_r, psfV:p4_psf_log, sbR:p4_sb_r, sbV:p4_sb_log,
  color:OII, lineSub:'[O II]', rsLine:' = 1.83±0.01 kpc', rsCont:' < 1.2 kpc',
  legend:[{label:'3σ SB limit',color:OII,dash:'1.5,2'},{label:'fit OII',color:OII},{label:'fit cont',color:'#000'},{label:'PSF',color:PSFC,sw:0.9},{label:'[O II]',color:OII,type:'pt'}]});

drawA(4, 'empty', {title:'(a)', info:['J1046','fesc < 0.01'], inst2:'HST/COS'});
drawSpec({row:ROWY[4], title:'(b)', xdom:[3877.6,3943.5], ydom:[-0.09,1.02], start:s5_start, vals:s5_vals,
  bands:[[3901,3910],[3913,3919]], bandY:[-0.05,0.99], bandColor:'#d6a6ee', dashes:[3904.5,3914.5],
  xticks:[3880,3890,3900,3910,3920,3930,3940], yticks:[0,0.2,0.4,0.6,0.8,1.0], ydec:1, label:'Mg II'});
drawC(4, 'mg', {title:'(c)', bg:'#150717', noise:true, glow:58, cont:40, psf:20, bar:38});
drawProf({id:5, row:ROWY[4], title:'(d)', xdom:[0,2.5], ydom:[-18.09,-15.68], xticks:[0,0.5,1.0,1.5,2.0,2.5], xdec:1, xerr:0.15,
  r:p5_r, v:p5_logSB, fitR:p5_fit_r, fitV:p5_fit_log, contR:p5_cont_r, contV:p5_cont_log, psfR:p5_psf_r, psfV:p5_psf_log, sbR:p5_sb_r, sbV:p5_sb_log,
  color:MG, lineSub:'Mg II', rsLine:' = 1.21±0.05 kpc', rsCont:' = 0.85±0.05 kpc',
  legend:[{label:'fit MgII',color:MG},{label:'fit cont',color:'#000'},{label:'PSF',color:PSFC,sw:0.9},{label:'3σ SB limit',color:MG,dash:'1.5,2'},{label:'Mg II',color:MG,type:'pt'}]});

drawA(5, 'img', {title:'(e)', bg:'#24508c', glow:72, circ:52, inst:'KCWI', bar:38});
drawSpec({row:ROWY[5], title:'(f)', xdom:[5173.2,5238.5], ydom:[-0.22,3.59], start:s6_start, vals:s6_vals,
  bands:[[5202,5214]], bandY:[-0.1,3.4], bandColor:'#b4ecb4', dashes:[5204.5,5208.5],
  xticks:[5180,5190,5200,5210,5220,5230], yticks:[0,0.5,1.0,1.5,2.0,2.5,3.0,3.5], ydec:1, label:'[O II]'});
drawC(5, 'oii', {title:'(g)', bg:'#44206e', glow:95, cont:72, psf:20, bar:38});
drawProf({id:6, row:ROWY[5], title:'(h)', xdom:[0,2.5], ydom:[-18.51,-14.87], xticks:[0,0.5,1.0,1.5,2.0,2.5], xdec:1, xerr:0.15,
  r:p6_r, v:p6_logSB, fitR:p6_fit_r, fitV:p6_fit_log, contR:p6_cont_r, contV:p6_cont_log, psfR:p6_psf_r, psfV:p6_psf_log, sbR:p6_sb_r, sbV:p6_sb_log,
  color:OII, lineSub:'[O II]', rsLine:' = 0.74±0.01 kpc', rsCont:' = 0.68±0.04 kpc',
  legend:[{label:'3σ SB limit',color:OII,dash:'1.5,2'},{label:'fit OII',color:OII},{label:'fit cont',color:'#000'},{label:'PSF',color:PSFC,sw:0.9},{label:'[O II]',color:OII,type:'pt'}]});
</script>
</body></html>
